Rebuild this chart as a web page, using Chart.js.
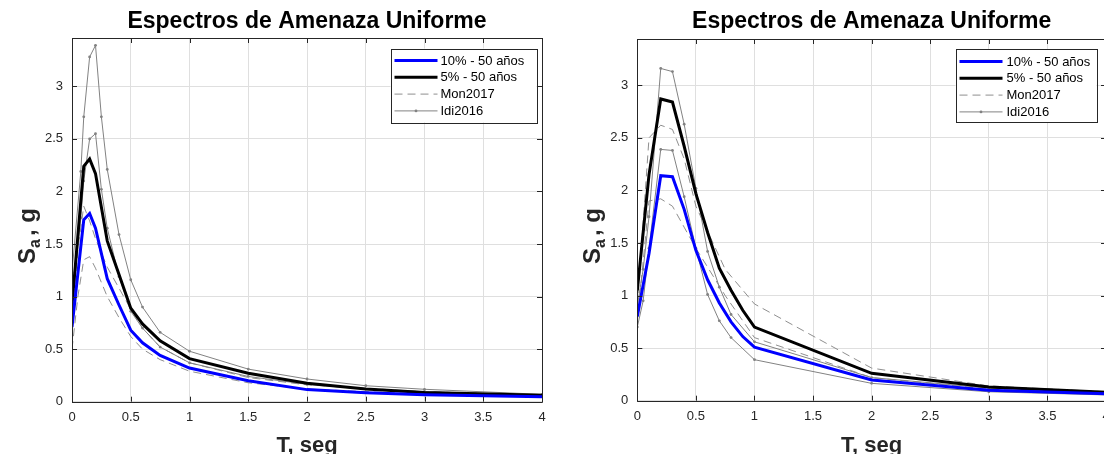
<!DOCTYPE html>
<html>
<head>
<meta charset="utf-8">
<script src="https://cdn.jsdelivr.net/npm/chart.js@4.4.1/dist/chart.umd.min.js"></script>
<style>
  html, body { margin: 0; padding: 0; background: #fff; overflow: hidden; }
  #wrap { position: relative; width: 1104px; height: 454px; overflow: hidden; }
  canvas { position: absolute; top: 0; }
  #cL { left: 0; }
  #cR { left: 560px; }
</style>
</head>
<body>
<div id="wrap">
  <canvas id="cL" width="560" height="454"></canvas>
  <canvas id="cR" width="560" height="454"></canvas>
</div>
<script>
// ---------- DATA ----------
const chartTitle = "Espectros de Amenaza Uniforme";
const xLabel = "T, seg";
const legendLabels = ["10% - 50 años", "5% - 50 años", "Mon2017", "Idi2016"];
const xTicks = [0, 0.5, 1, 1.5, 2, 2.5, 3, 3.5, 4];
const yTicks = [0, 0.5, 1, 1.5, 2, 2.5, 3];

// Left panel
const periodsL = [0, 0.1, 0.15, 0.2, 0.3, 0.4, 0.5, 0.6, 0.75, 1, 1.5, 2, 2.5, 3, 4];
const blueL  = [0.71, 1.73, 1.79, 1.65, 1.17, 0.92, 0.68, 0.56, 0.44, 0.32, 0.20, 0.115, 0.085, 0.065, 0.048];
const blackL = [0.92, 2.24, 2.31, 2.17, 1.53, 1.21, 0.89, 0.74, 0.58, 0.41, 0.27, 0.175, 0.12, 0.088, 0.062];
const periodsIdiL = [0, 0.075, 0.1, 0.15, 0.2, 0.25, 0.3, 0.4, 0.5, 0.6, 0.75, 1, 1.5, 2, 2.5, 3, 4];
const idiUpL = [1.23, 2.19, 2.71, 3.28, 3.39, 2.71, 2.21, 1.59, 1.16, 0.90, 0.66, 0.48, 0.31, 0.216, 0.152, 0.118, 0.07];
const idiLoL = [0.94, 1.75, 2.10, 2.50, 2.55, 2.02, 1.65, 1.19, 0.86, 0.70, 0.52, 0.37, 0.24, 0.165, 0.12, 0.095, 0.062];
const periodsMonL = [0, 0.05, 0.1, 0.15, 0.2, 0.3, 0.4, 0.5, 0.6, 0.75, 1, 1.5, 2, 3, 4];
const monUpL = [0.75, 1.45, 1.86, 1.72, 1.55, 1.28, 1.08, 0.88, 0.70, 0.52, 0.37, 0.23, 0.16, 0.095, 0.062];
const monLoL = [0.50, 1.00, 1.35, 1.38, 1.27, 1.00, 0.80, 0.62, 0.50, 0.40, 0.29, 0.18, 0.12, 0.072, 0.048];

// Right panel
const periodsR = [0, 0.1, 0.2, 0.3, 0.4, 0.5, 0.6, 0.7, 0.8, 0.9, 1, 2, 3, 4];
const blueR  = [0.80, 1.40, 2.14, 2.13, 1.82, 1.43, 1.15, 0.93, 0.75, 0.61, 0.51, 0.197, 0.10, 0.065];
const blackR = [1.05, 2.15, 2.87, 2.84, 2.42, 1.97, 1.60, 1.26, 1.05, 0.86, 0.70, 0.26, 0.13, 0.08];
const periodsIdiR = [0, 0.05, 0.1, 0.2, 0.3, 0.4, 0.5, 0.6, 0.7, 0.8, 1, 2, 3, 4];
const idiUpR = [0.90, 1.25, 1.75, 3.16, 3.13, 2.63, 2.02, 1.42, 1.08, 0.82, 0.56, 0.22, 0.12, 0.08];
const idiLoR = [0.70, 0.95, 1.45, 2.39, 2.38, 1.94, 1.45, 1.01, 0.76, 0.60, 0.39, 0.165, 0.085, 0.055];
const periodsMonR = [0, 0.1, 0.2, 0.3, 0.4, 0.5, 0.75, 1, 2, 3, 4];
const monUpR = [0.90, 2.50, 2.62, 2.58, 2.30, 1.85, 1.25, 0.92, 0.31, 0.14, 0.085];
const monLoR = [0.75, 1.90, 1.92, 1.85, 1.65, 1.45, 1.00, 0.60, 0.22, 0.11, 0.07];

// ---------- STYLE ----------
const FONT = '"Liberation Sans", Arial, Helvetica, sans-serif';
const AXIS = '#262626';
const GRAY = '#828282';
const BLUE = '#0000ff';

function pts(xs, ys) { return xs.map((x, i) => ({ x: x, y: ys[i] })); }

function makeDatasets(p) {
  return [
    { label: legendLabels[0], data: pts(p.T, p.blue), borderColor: BLUE, borderWidth: 3, pointRadius: 0, order: 0 },
    { label: legendLabels[1], data: pts(p.T, p.black), borderColor: '#000', borderWidth: 3, pointRadius: 0, order: 1 },
    { label: legendLabels[2], data: pts(p.Tm, p.monUp), borderColor: GRAY, borderWidth: 0.9, borderDash: [8, 5], pointRadius: 0, order: 3 },
    { label: legendLabels[2], data: pts(p.Tm, p.monLo), borderColor: GRAY, borderWidth: 0.9, borderDash: [8, 5], pointRadius: 0, order: 3 },
    { label: legendLabels[3], data: pts(p.Ti, p.idiUp), borderColor: GRAY, borderWidth: 1, pointRadius: 1.4, pointBackgroundColor: GRAY, pointBorderWidth: 0, order: 2 },
    { label: legendLabels[3], data: pts(p.Ti, p.idiLo), borderColor: GRAY, borderWidth: 1, pointRadius: 1.4, pointBackgroundColor: GRAY, pointBorderWidth: 0, order: 2 }
  ];
}

const decoPlugin = {
  id: 'deco',
  afterDraw(chart, args, o) {
    const ctx = chart.ctx, a = chart.chartArea;
    const xs = chart.scales.x, ys = chart.scales.y;
    ctx.save();
    // box
    ctx.strokeStyle = AXIS; ctx.lineWidth = 1;
    ctx.beginPath();
    ctx.rect(Math.round(a.left) + 0.5, Math.round(a.top) + 0.5, Math.round(a.right - a.left), Math.round(a.bottom - a.top));
    ctx.stroke();
    // inner ticks all sides
    const TL = 5;
    ctx.beginPath();
    xTicks.forEach(v => {
      const px = Math.round(xs.getPixelForValue(v)) + 0.5;
      ctx.moveTo(px, a.bottom); ctx.lineTo(px, a.bottom - TL);
      ctx.moveTo(px, a.top); ctx.lineTo(px, a.top + TL);
    });
    yTicks.forEach(v => {
      const py = Math.round(ys.getPixelForValue(v)) + 0.5;
      ctx.moveTo(a.left, py); ctx.lineTo(a.left + TL, py);
      ctx.moveTo(a.right, py); ctx.lineTo(a.right - TL, py);
    });
    ctx.stroke();
    // title
    const cx = (a.left + a.right) / 2;
    ctx.fillStyle = '#000';
    ctx.font = 'bold 23px ' + FONT;
    ctx.textAlign = 'center'; ctx.textBaseline = 'alphabetic';
    ctx.fillText(chartTitle, cx, o.titleY);
    // x label
    ctx.fillStyle = AXIS;
    ctx.font = 'bold 22px ' + FONT;
    ctx.fillText(xLabel, cx, o.xLabelY);
    // y label with subscript (positioned relative to the plot's left edge)
    ctx.save();
    ctx.translate(a.left - o.yLabelOff, o.yLabelCY);
    ctx.rotate(-Math.PI / 2);
    ctx.textAlign = 'left';
    const big = 'bold 24px ' + FONT, small = 'bold 16px ' + FONT;
    const gap = 3;
    ctx.font = big; const wS = ctx.measureText('S').width, wR = ctx.measureText(', g').width;
    ctx.font = small; const wa = ctx.measureText('a').width;
    let x0 = -(wS + wa + gap + wR) / 2;
    ctx.font = big; ctx.fillText('S', x0, 0);
    ctx.font = small; ctx.fillText('a', x0 + wS, 5);
    ctx.font = big; ctx.fillText(', g', x0 + wS + wa + gap, 0);
    ctx.restore();
    // legend
    const L = o.legend;
    const bx = a.right - L.rightGap - L.w, by = a.top + L.topGap;
    ctx.fillStyle = '#fff';
    ctx.fillRect(bx, by, L.w, L.h);
    ctx.strokeStyle = AXIS; ctx.lineWidth = 1;
    ctx.strokeRect(Math.round(bx) + 0.5, Math.round(by) + 0.5, Math.round(L.w), Math.round(L.h));
    ctx.font = '13px ' + FONT;
    ctx.textAlign = 'left'; ctx.textBaseline = 'middle';
    const styles = [
      { c: BLUE, w: 3, d: [] }, { c: '#000', w: 3, d: [] },
      { c: GRAY, w: 0.9, d: [8, 5] }, { c: GRAY, w: 1, d: [], dot: true }
    ];
    styles.forEach((s, i) => {
      const ry = by + L.row0 + i * L.rowH;
      ctx.strokeStyle = s.c; ctx.lineWidth = s.w; ctx.setLineDash(s.d);
      ctx.beginPath(); ctx.moveTo(bx + L.s0, ry); ctx.lineTo(bx + L.s1, ry); ctx.stroke();
      ctx.setLineDash([]);
      if (s.dot) { ctx.fillStyle = GRAY; ctx.beginPath(); ctx.arc(bx + (L.s0 + L.s1) / 2, ry, 1.4, 0, Math.PI * 2); ctx.fill(); }
      ctx.fillStyle = '#000';
      ctx.fillText(legendLabels[i], bx + L.tx, ry + 0.5);
    });
    ctx.restore();
  }
};

function makeChart(id, p, geo) {
  return new Chart(document.getElementById(id), {
    type: 'line',
    data: { datasets: makeDatasets(p) },
    plugins: [decoPlugin],
    options: {
      responsive: false, animation: false, devicePixelRatio: 1,
      layout: { padding: { left: 0, right: geo.padRight, top: geo.top, bottom: 0 } },
      elements: { line: { tension: 0, fill: false } },
      plugins: {
        legend: { display: false }, tooltip: { enabled: false }, title: { display: false },
        deco: geo.deco
      },
      scales: {
        x: {
          type: 'linear', min: 0, max: 4,
          afterFit: s => { s.height = geo.xH; s.paddingLeft = 0; s.paddingRight = 0; },
          afterBuildTicks: s => { s.ticks = xTicks.map(v => ({ value: v })); },
          ticks: { font: { family: FONT, size: 13 }, color: AXIS, padding: 8, maxRotation: 0, autoSkip: false, callback: v => String(v) },
          grid: { color: '#dfdfdf', drawTicks: false, lineWidth: 1 },
          border: { display: false }
        },
        y: {
          type: 'linear', min: 0, max: geo.ymax,
          afterFit: s => { s.width = geo.yW; },
          afterBuildTicks: s => { s.ticks = yTicks.map(v => ({ value: v })); },
          ticks: { font: { family: FONT, size: 13 }, color: AXIS, padding: 9, autoSkip: false, callback: v => String(v) },
          grid: { color: '#dfdfdf', drawTicks: false, lineWidth: 1 },
          border: { display: false }
        }
      }
    }
  });
}

makeChart('cL',
  { T: periodsL, blue: blueL, black: blackL, Ti: periodsIdiL, idiUp: idiUpL, idiLo: idiLoL, Tm: periodsMonL, monUp: monUpL, monLo: monLoL },
  { padRight: 18, top: 38, xH: 52.3, yW: 72, ymax: 3.46,
    deco: { titleY: 28, xLabelY: 452, yLabelOff: 37, yLabelCY: 236,
      legend: { w: 146, h: 74, rightGap: 5.5, topGap: 10.5, row0: 12, rowH: 16.8, s0: 4, s1: 47, tx: 50 } } });

makeChart('cR',
  { T: periodsR, blue: blueR, black: blackR, Ti: periodsIdiR, idiUp: idiUpR, idiLo: idiLoR, Tm: periodsMonR, monUp: monUpR, monLo: monLoR },
  { padRight: 14, top: 39, xH: 53.3, yW: 77.3, ymax: 3.44,
    deco: { titleY: 28, xLabelY: 452, yLabelOff: 37, yLabelCY: 236,
      legend: { w: 141, h: 73, rightGap: 9.5, topGap: 10, row0: 12.5, rowH: 16.8, s0: 4, s1: 47, tx: 51 } } });
</script>
</body>
</html>
